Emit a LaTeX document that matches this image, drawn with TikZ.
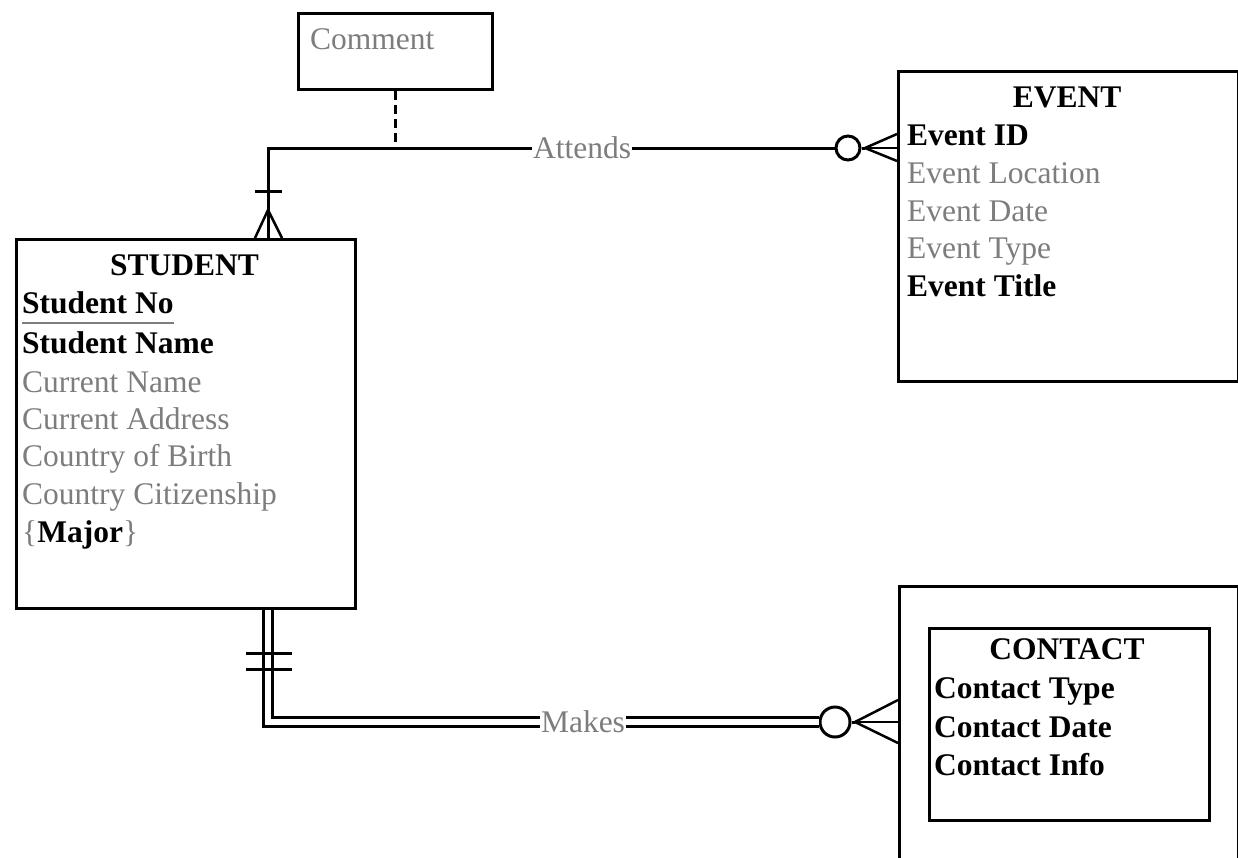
\documentclass[tikz,border=0pt]{standalone}
\usepackage{fontspec}
\setmainfont{Liberation Serif}
\usetikzlibrary{calc}
\definecolor{attrgray}{RGB}{125,125,125}
\tikzset{
  box/.style={draw, line width=3pt, rectangle, inner sep=0pt, anchor=north west},
  attr/.style={anchor=base west, inner sep=0pt, text=attrgray, font=\fontsize{31.5}{36}\selectfont},
  key/.style={anchor=base west, inner sep=0pt, text=black, font=\fontsize{31.5}{36}\selectfont\bfseries},
  title/.style={anchor=base, inner sep=0pt, text=black, font=\fontsize{31.5}{36}\selectfont\bfseries},
  rel/.style={line width=3pt},
  rlabel/.style={anchor=base, fill=white, inner xsep=1pt, inner ysep=2pt, text=attrgray, font=\fontsize{31.5}{36}\selectfont},
  optcirc/.style={draw, circle, line width=3pt, fill=white, inner sep=0pt},
  crow/.style={line width=2.5pt},
  tick/.style={line width=3pt},
}
\begin{document}
\begin{tikzpicture}[x=1pt,y=-1pt]
\path[use as bounding box, clip] (0,0) rectangle (1238,857);
\fill[white] (0,0) rectangle (1238,857);

% Comment
\node[box, minimum width=194, minimum height=76] (comment) at (297,12) {};
\node[attr] (commenttxt) at (310,49) {Comment};

% STUDENT
\node[box, minimum width=339, minimum height=369] (student) at (15,238) {};
\node[title] (sttitle) at (184.5,275) {STUDENT};
\node[key] (stno) at (22,313) {Student No};
\draw[attrgray, line width=2pt] ($(stno.base west)+(0,10)$) -- ($(stno.base east)+(0,10)$);
\node[key] (stname) at (22,353) {Student Name};
\node[attr] (stcur) at (22,392) {Current Name};
\node[attr] (staddr) at (22,429) {Current Address};
\node[attr] (stbirth) at (22,466) {Country of Birth};
\node[attr] (stcit) at (22,504) {Country Citizenship};
\node[attr] (stmaj) at (22,542) {\{\textbf{\color{black}Major}\}};

% EVENT
\node[box, minimum width=340, minimum height=310] (event) at (897,70) {};
\node[title] (evtitle) at (1067,107) {EVENT};
\node[key] (evid) at (907,145) {Event ID};
\node[attr] (evloc) at (907,183) {Event Location};
\node[attr] (evdate) at (907,221) {Event Date};
\node[attr] (evtype) at (907,258) {Event Type};
\node[key] (evtit) at (907,296) {Event Title};

% CONTACT (weak entity)
\node[box, minimum width=339, minimum height=300] (contactouter) at (898,585) {};
\node[box, minimum width=280, minimum height=192] (contact) at (928,627) {};
\node[title] (cotitle) at (1067,659) {CONTACT};
\node[key] (cotype) at (934,698) {Contact Type};
\node[key] (codate) at (934,737) {Contact Date};
\node[key] (coinfo) at (934,775) {Contact Info};

% Attends relationship
\coordinate (sx) at (268,0);
\node[optcirc, minimum size=24] (ca) at (848,148) {};
\draw[rel] (sx |- student.north) |- (ca.west);
\coordinate (ea) at (865,148);
\draw[rel] (ca.east) -- (ea);
\draw[crow] (ea) -- ($(event.north west)+(0,64)$);
\draw[crow] (ea) -- ($(event.north west)+(0,78)$);
\draw[crow] (ea) -- ($(event.north west)+(0,91)$);
% student end: one and many
\draw[tick] ($(sx |- student.north)+(-13,-47)$) -- ($(sx |- student.north)+(14,-47)$);
\draw[crow] ($(sx |- student.north)+(0,-28)$) -- ($(sx |- student.north)+(-13,0)$);
\draw[crow] ($(sx |- student.north)+(0,-28)$) -- ($(sx |- student.north)+(14,0)$);
\node[rlabel] (attends) at (582,158) {Attends};
% comment link
\draw[line width=3pt, dash pattern=on 9pt off 5pt] (comment.south) -- (comment.south |- ca.west);

% Makes relationship (identifying, double line)
\node[optcirc, minimum size=30] (cm) at (835,722) {};
\draw[line width=2.8pt, double=white, double distance=6.5pt, line join=miter]
  (sx |- student.south) |- (cm.west);
\draw[tick] (246,653) -- (292,653);
\draw[tick] (246,669) -- (292,669);
\coordinate (ma) at (855,722);
\draw[rel] (cm.east) -- (ma);
\draw[crow] (ma) -- ($(contactouter.north west)+(0,115)$);
\draw[crow] (ma) -- ($(contactouter.north west)+(0,137)$);
\draw[crow] (ma) -- ($(contactouter.north west)+(0,158)$);
\node[rlabel] (makes) at (583,732) {Makes};
\end{tikzpicture}
\end{document}
